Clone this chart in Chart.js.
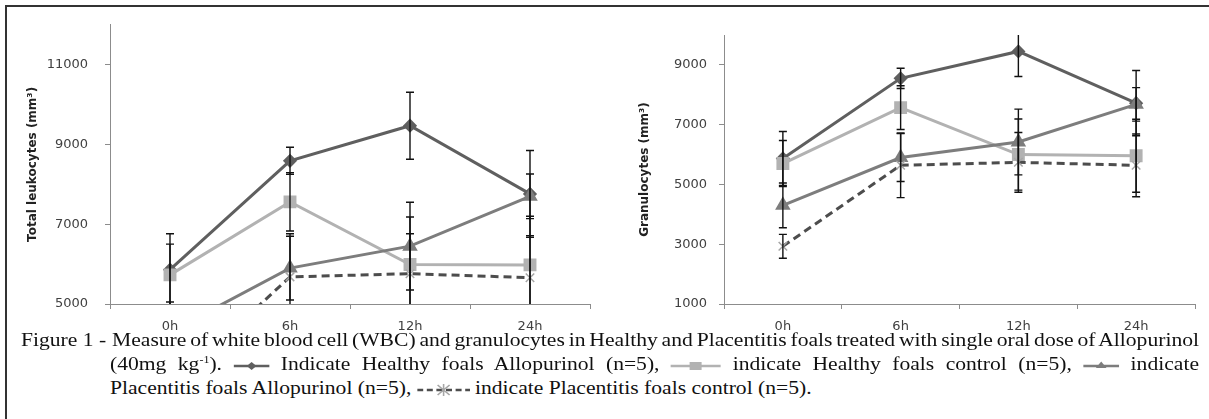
<!DOCTYPE html>
<html lang="en">
<head>
<meta charset="UTF-8">
<title>WBC and granulocytes</title>
<script src="https://cdn.jsdelivr.net/npm/chart.js"></script>
<style>
  body { margin: 0; background: #fff; width: 1209px; height: 419px; overflow: hidden; position: relative; }
  #frame { position: absolute; left: 5px; top: 5px; width: 1230px; height: 440px; border: 2px solid #333; box-sizing: border-box; }
  canvas { position: absolute; top: 0; }
  #wbc { left: 0; }
  #gran { left: 600px; }
  .cap { position: absolute; font-family: "Liberation Serif", "Times New Roman", serif; font-size: 18px; line-height: 24px;
         white-space: nowrap; transform-origin: 0 0; transform: scaleX(1.2); color: #111; }
  .cap svg { vertical-align: middle; }
  .cap sup { font-size: 10px; line-height: 0; }
</style>
</head>
<body>
<div id="frame"></div>
<canvas id="wbc" width="600" height="340"></canvas>
<canvas id="gran" width="609" height="340"></canvas>

<div class="cap" style="left:21px; top:328px;">Figure 1 -</div>
<div class="cap fit" data-left="112" data-right="1199" style="left:112px; top:328px;">Measure of white blood cell (WBC) and granulocytes in Healthy and Placentitis foals treated with single oral dose of Allopurinol</div>
<div class="cap fit" data-left="110" data-right="1199" style="left:110px; top:352px;">(40mg kg<sup>-1</sup>). <svg width="30" height="12"><line x1="0" y1="6" x2="30" y2="6" stroke="#5f5f5f" stroke-width="2.5"/><polygon points="15,2 19,6 15,10 11,6" fill="#5f5f5f"/></svg> Indicate Healthy foals Allopurinol (n=5), <svg width="42" height="12"><line x1="0" y1="6" x2="42" y2="6" stroke="#b2b2b2" stroke-width="2.5"/><rect x="16" y="2" width="10" height="8" fill="#b2b2b2"/></svg> indicate Healthy foals control (n=5), <svg width="30" height="12"><line x1="0" y1="6" x2="30" y2="6" stroke="#7d7d7d" stroke-width="2.5"/><polygon points="15,1.5 19.5,8 10.5,8" fill="#7d7d7d"/></svg> indicate</div>
<div class="cap" style="left:110px; top:376px;">Placentitis foals Allopurinol (n=5), <svg width="44" height="12"><line x1="0" y1="6" x2="44" y2="6" stroke="#4d4d4d" stroke-width="2.5" stroke-dasharray="5,3"/><path d="M17,1 L27,11 M27,1 L17,11 M22,0 L22,12" stroke="#a6a6a6" stroke-width="1.3"/></svg> indicate Placentitis foals control (n=5).</div>

<script>
    // time points
    const hours = ['0h', '6h', '12h', '24h'];

    // total leukocytes (mm3)
    const wbcHealthyAllo = [5860, 8590, 9470, 7760];
    const wbcHealthyCtrl = [5730, 7560, 5990, 5980];
    const wbcPlacAllo = [4300, 5900, 6450, 7700];
    const wbcPlacCtrl = [2900, 5680, 5760, 5660];

    // granulocytes (mm3)
    const granHealthyAllo = [5870, 8550, 9450, 7720];
    const granHealthyCtrl = [5700, 7570, 6000, 5960];
    const granPlacAllo = [4300, 5900, 6420, 7680];
    const granPlacCtrl = [2930, 5640, 5740, 5640];

    // error bar half-lengths (same bars on both panels)
    const errHealthyAllo = [900, 340, 840, 1090];
    const errHealthyCtrl = [770, 730, 1190, 1220];
    const errPlacAllo = [750, 800, 1100, 560];
    const errPlacCtrl = [400, 1080, 1000, 1050];

    // axis ranges and tick labels
    const wbcRange = [5000, 12000];
    const wbcTickValues = [5000, 7000, 9000, 11000];
    const granRange = [1000, 10000];
    const granTickValues = [1000, 3000, 5000, 7000, 9000];

    Chart.defaults.font.family = "'DejaVu Sans', Verdana, sans-serif";

    const errorBars = {
        id: 'errorBars',
        afterDatasetsDraw(chart) {
            const ctx = chart.ctx, area = chart.chartArea, y = chart.scales.y;
            ctx.save();
            ctx.beginPath();
            ctx.rect(area.left, area.top, area.right - area.left, area.bottom - area.top);
            ctx.clip();
            ctx.strokeStyle = '#111';
            ctx.lineWidth = 1.4;
            chart.data.datasets.forEach((ds, i) => {
                const meta = chart.getDatasetMeta(i);
                ds.errors.forEach((e, j) => {
                    const x = meta.data[j].x;
                    const top = y.getPixelForValue(ds.data[j] + e);
                    const bot = y.getPixelForValue(ds.data[j] - e);
                    ctx.beginPath();
                    ctx.moveTo(x, top); ctx.lineTo(x, bot);
                    ctx.moveTo(x - 4, top); ctx.lineTo(x + 4, top);
                    ctx.moveTo(x - 4, bot); ctx.lineTo(x + 4, bot);
                    ctx.stroke();
                });
            });
            ctx.restore();
        }
    };

    function series(ha, hc, pa, pc) {
        return [
            {
                data: pc, errors: errPlacCtrl, borderColor: '#4d4d4d', borderWidth: 3, borderDash: [8, 5],
                pointStyle: 'crossRot', pointRadius: 6, pointBorderColor: '#a6a6a6', pointBorderWidth: 1.5, clip: 0
            },
            {
                data: pa, errors: errPlacAllo, borderColor: '#7d7d7d', borderWidth: 3,
                pointStyle: 'triangle', pointRadius: 6, pointBackgroundColor: '#7d7d7d', pointBorderColor: '#7d7d7d', clip: 0
            },
            {
                data: hc, errors: errHealthyCtrl, borderColor: '#b2b2b2', borderWidth: 3,
                pointStyle: 'rect', pointRadius: 7, pointBackgroundColor: '#b2b2b2', pointBorderColor: '#b2b2b2', clip: 0
            },
            {
                data: ha, errors: errHealthyAllo, borderColor: '#5f5f5f', borderWidth: 3,
                pointStyle: 'rectRot', pointRadius: 5, pointBackgroundColor: '#5f5f5f', pointBorderColor: '#5f5f5f', clip: 0
            }
        ];
    }

    function makeChart(id, datasets, range, tickValues, title, pad, yWidth, titlePad, tickPad) {
        return new Chart(document.getElementById(id), {
            type: 'line',
            data: { labels: hours, datasets: datasets },
            plugins: [errorBars],
            options: {
                responsive: false,
                animation: false,
                layout: { padding: pad },
                plugins: { legend: { display: false }, tooltip: { enabled: false } },
                scales: {
                    x: {
                        offset: true,
                        grid: { offset: true, drawOnChartArea: false, tickLength: 5, color: '#8c8c8c' },
                        border: { color: '#8c8c8c' },
                        ticks: { color: '#404040', font: { size: 13 }, padding: 10 },
                        afterFit: (s) => { s.height = 36; }
                    },
                    y: {
                        min: range[0], max: range[1],
                        grid: { drawOnChartArea: false, tickLength: 5, color: '#8c8c8c' },
                        border: { color: '#8c8c8c' },
                        ticks: { color: '#404040', font: { size: 13 }, padding: tickPad, callback: (v) => String(v) },
                        afterBuildTicks: (s) => { s.ticks = tickValues.map((v) => ({ value: v })); },
                        title: { display: true, text: title, color: '#222', font: { size: 12, weight: 'bold' }, padding: { top: titlePad, bottom: 0 } },
                        afterFit: (s) => { s.width = yWidth; }
                    }
                }
            }
        });
    }

    makeChart('wbc', series(wbcHealthyAllo, wbcHealthyCtrl, wbcPlacAllo, wbcPlacCtrl), wbcRange, wbcTickValues,
        'Total leukocytes (mm³)', { top: 18, right: 10, left: 0, bottom: 0 }, 110, 26, 17);
    makeChart('gran', series(granHealthyAllo, granHealthyCtrl, granPlacAllo, granPlacCtrl), granRange, granTickValues,
        'Granulocytes (mm³)', { top: 35, right: 14, left: 0, bottom: 0 }, 124, 38, 12);

    // stretch justified caption lines to their edges
    document.querySelectorAll('.fit').forEach((el) => {
        const target = (+el.dataset.right - +el.dataset.left) / 1.2;
        const gaps = el.textContent.trim().split(' ').length - 1;
        const natural = el.getBoundingClientRect().width / 1.2;
        el.style.wordSpacing = ((target - natural) / gaps) + 'px';
    });
</script>
</body>
</html>
